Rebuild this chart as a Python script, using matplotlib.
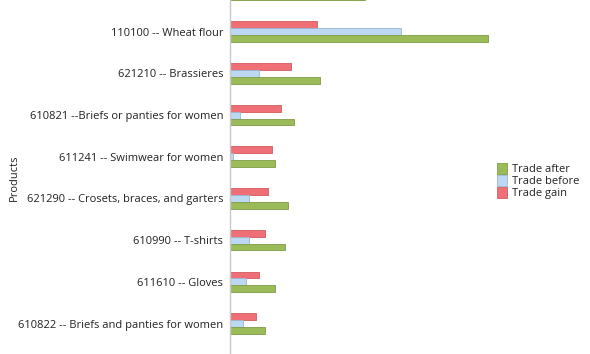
import matplotlib
matplotlib.use("Agg")
import matplotlib.pyplot as plt
from matplotlib.patches import Patch
import numpy as np

plt.rcParams['font.family'] = ['Open Sans', 'DejaVu Sans']

# products, top to bottom (first one is cut off at the top of the picture)
products = ["",
            "110100 -- Wheat flour",
            "621210 -- Brassieres",
            "610821 --Briefs or panties for women",
            "611241 -- Swimwear for women",
            "621290 -- Crosets, braces, and garters",
            "610990 -- T-shirts",
            "611610 -- Gloves",
            "610822 -- Briefs and panties for women"]
trade_after = [135, 258, 90, 64, 45, 58, 55, 45, 35]
trade_before = [60, 171, 29, 10, 3, 19, 19, 16, 13]
trade_gain = [75, 87, 61, 51, 42, 38, 35, 29, 26]

green, green_e = '#9bbb59', '#7f9c47'
blue, blue_e = '#bcd8f2', '#98b8d6'
red, red_e = '#ef6f76', '#d25a61'
txt = '#222222'

fig = plt.figure(figsize=(5.9, 3.54), dpi=100)
ax = fig.add_axes([230 / 590, 0, 1 - 230 / 590, 1])

y = np.arange(len(products))
h = 0.165
ax.barh(y - h, trade_gain, height=h, color=red, edgecolor=red_e, linewidth=0.6)
ax.barh(y, trade_before, height=h, color=blue, edgecolor=blue_e, linewidth=0.6)
ax.barh(y + h, trade_after, height=h, color=green, edgecolor=green_e, linewidth=0.6)

ax.set_ylim(8.73, 0.24)
ax.set_xlim(0, 360)
# the first product's label lies above the picture, so only label the rest
ax.set_yticks(y[1:])
ax.set_yticklabels(products[1:], fontsize=8.0, color=txt)
ax.tick_params(axis='y', length=0, pad=5)
ax.set_xticks([])
for s in ['top', 'right', 'bottom']:
    ax.spines[s].set_visible(False)
ax.spines['left'].set_color('#c8c8c8')
ax.spines['left'].set_linewidth(1.0)

fig.text(14 / 590, 1 - 178 / 354, "Products", rotation=90, va='center', ha='center',
         fontsize=8.0, color=txt)

handles = [Patch(facecolor=green, edgecolor=green_e, linewidth=0.6),
           Patch(facecolor=blue, edgecolor=blue_e, linewidth=0.6),
           Patch(facecolor=red, edgecolor=red_e, linewidth=0.6)]
leg = fig.legend(handles, ["Trade after", "Trade before", "Trade gain"],
                 loc='center left', bbox_to_anchor=(489 / 590, 1 - 181 / 354),
                 frameon=False, fontsize=8.0, handlelength=0.9, handleheight=1.1,
                 labelspacing=0.0, handletextpad=0.5, borderpad=0.2)
for t in leg.get_texts():
    t.set_color(txt)

fig.savefig("out.png", dpi=100)
